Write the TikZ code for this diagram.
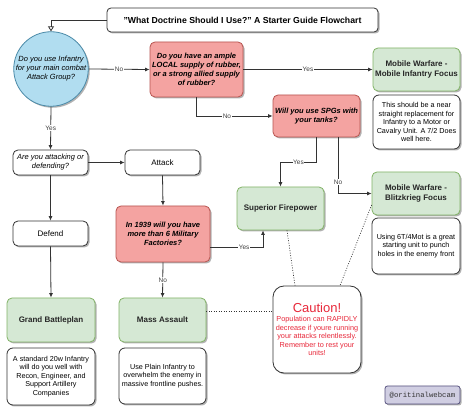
\documentclass[tikz,border=0pt]{standalone}
\usepackage{fontspec}
\setmainfont{Liberation Sans}
\newfontfamily\wmfont{Liberation Mono}
\usetikzlibrary{arrows.meta,shadows,calc}
\definecolor{redfill}{HTML}{F4A3A1}
\definecolor{redline}{HTML}{B85450}
\definecolor{greenfill}{HTML}{D5E8D4}
\definecolor{greenline}{HTML}{82B366}
\definecolor{bluefill}{HTML}{B1DDF0}
\definecolor{blueline}{HTML}{4A8AA8}
\definecolor{wmfill}{HTML}{D0CEE2}
\definecolor{wmline}{HTML}{56517E}
\definecolor{lines}{HTML}{333333}
\definecolor{cautred}{HTML}{E8283A}
\tikzset{
  shad/.style={drop shadow={shadow xshift=1.5pt,shadow yshift=-1.5pt,opacity=0.3,fill=black}},
  basebox/.style={rectangle, rounded corners=5pt, draw=lines, line width=0.8pt, align=center,
    inner sep=1pt, shad, font=\fontsize{7.5}{9}\selectfont},
  whitebox/.style={basebox, fill=white},
  notebox/.style={basebox, fill=white, rounded corners=6pt, font=\fontsize{7.2}{8.5}\selectfont},
  redbox/.style={basebox, fill=redfill, draw=redline, font=\fontsize{7.5}{9}\selectfont\bfseries\itshape},
  greenbox/.style={basebox, fill=greenfill, draw=greenline, font=\fontsize{8}{9.5}\selectfont\bfseries, text=black!85},
  circbox/.style={circle, draw=blueline, fill=bluefill, line width=0.8pt, align=center, inner sep=0pt,
    shad, font=\fontsize{7.5}{9}\selectfont\itshape},
  conn/.style={draw=lines, line width=0.8pt, -{Latex[length=4.5pt,width=4pt]}},
  dotconn/.style={draw=lines, line width=0.7pt, dash pattern=on 0.9pt off 1.6pt},
  lab/.style={fill=white, inner sep=0.6pt, font=\fontsize{6.5}{7}\selectfont, text=black!75}
}
\begin{document}
\begin{tikzpicture}[x=1pt,y=-1pt]
\useasboundingbox[fill=white] (0,0) rectangle (474,419);

% title
\node[whitebox, rounded corners=4pt, minimum width=271pt, minimum height=24pt,
  font=\fontsize{8.7}{10}\selectfont\bfseries] (title) at (242.5,20)
  {"What Doctrine Should I Use?" A Starter Guide Flowchart};

% questions
\node[circbox, minimum size=74pt] (q1) at (51,69) {Do you use Infantry\\for your main combat\\Attack Group?};
\node[redbox, minimum width=93pt, minimum height=55pt] (q2) at (196.5,69.5)
  {Do you have an ample\\LOCAL supply of rubber,\\or a strong allied supply\\of rubber?};
\node[redbox, minimum width=87pt, minimum height=42pt] (q3) at (316.5,116)
  {Will you use SPGs with\\your tanks?};
\node[whitebox, minimum width=75pt, minimum height=25pt, font=\fontsize{7.5}{9}\selectfont\itshape] (aod) at (50.5,162.5)
  {Are you attacking or\\defending?};
\node[whitebox, minimum width=75pt, minimum height=25pt, font=\fontsize{8}{9}\selectfont] (attack) at (162.5,162.5) {Attack};
\node[whitebox, minimum width=75pt, minimum height=25pt, font=\fontsize{8}{9}\selectfont] (defend) at (50.5,233.5) {Defend};
\node[redbox, minimum width=94pt, minimum height=56pt] (q4) at (163,234)
  {In 1939 will you have\\more than 6 Military\\Factories?};

% outcomes
\node[greenbox, minimum width=87pt, minimum height=43pt] (mi) at (416.5,69.5) {Mobile Warfare -\\Mobile Infantry Focus};
\node[notebox, minimum width=87pt, minimum height=54pt] (minote) at (416.5,122)
  {This should be a near\\straight replacement for\\Infantry to a Motor or\\Cavalry Unit. A 7/2 Does\\well here.};
\node[greenbox, minimum width=87pt, minimum height=43pt] (sf) at (280.5,208.5) {Superior Firepower};
\node[greenbox, minimum width=88pt, minimum height=43pt] (bk) at (416,193.5) {Mobile Warfare -\\Blitzkrieg Focus};
\node[notebox, minimum width=88pt, minimum height=56pt] (bknote) at (416,246)
  {Using 6T/4Mot is a great\\starting unit to punch\\holes in the enemy front};
\node[greenbox, minimum width=88pt, minimum height=44pt] (gb) at (51,320) {Grand Battleplan};
\node[notebox, minimum width=88pt, minimum height=57pt] (gbnote) at (51,376.5)
  {A standard 20w Infantry\\will do you well with\\Recon, Engineer, and\\Support Artillery\\Companies};
\node[greenbox, minimum width=87pt, minimum height=44pt] (ma) at (162.5,320) {Mass Assault};
\node[notebox, minimum width=87pt, minimum height=56pt] (manote) at (162.5,376)
  {Use Plain Infantry to\\overwhelm the enemy in\\massive frontline pushes.};

% caution
\node[notebox, rounded corners=11pt, minimum width=88pt, minimum height=87pt, text=cautred,
  font=\fontsize{7.3}{8.5}\selectfont] (caution) at (317,329.5)
  {{\fontsize{13}{14}\selectfont Caution!}\\[1pt]Population can RAPIDLY\\decrease if youre running\\your attacks relentlessly.\\Remember to rest your\\units!};

% watermark
\node[basebox, rounded corners=2.5pt, fill=wmfill, draw=wmline, minimum width=75pt, minimum height=18pt,
  font=\fontsize{7.3}{8}\selectfont\wmfont, text=black!80] (wm) at (422.5,395) {@oritinalwebcam};

% connectors
\draw[draw=lines, line width=0.8pt, -{Triangle[open,length=5pt,width=6pt]}] (title.west) -| (q1.north);
\draw[conn] (q1.east) -- node[lab]{No} (q2.west);
\draw[conn] (q2.east) -- node[lab]{Yes} (mi.west);
\draw[conn] (q2.south) |- node[lab,pos=0.7]{No} (q3.west);
\draw[conn] (q3.south) -- ++(0,25) -| node[lab,pos=0.25]{Yes} (sf.north);
\draw[conn] ([xshift=21.5pt]q3.south) |- node[lab,pos=0.4]{No} (bk.west);
\draw[conn] (q1.south) -- node[lab,pos=0.5]{Yes} (aod.north);
\draw[conn] (aod.east) -- (attack.west);
\draw[conn] (attack.south) -- (q4.north);
\draw[conn] (aod.south) -- (defend.north);
\draw[conn] (defend.south) -- (gb.north);
\draw[conn] ([yshift=-13pt]q4.east) -| node[lab,pos=0.32]{Yes} ([xshift=-17.5pt]sf.south);
\draw[conn] (q4.south) -- node[lab]{No} (ma.north);

% dotted links
\draw[dotconn] ([yshift=9pt]ma.east) -- ([yshift=9pt]ma.east -| caution.west);
\draw[dotconn] ([xshift=6.5pt]sf.south) -- ([xshift=-22pt]caution.north);
\draw[dotconn] ([yshift=-11.5pt]bk.west) -- ([xshift=23pt]caution.north);
\end{tikzpicture}
\end{document}
